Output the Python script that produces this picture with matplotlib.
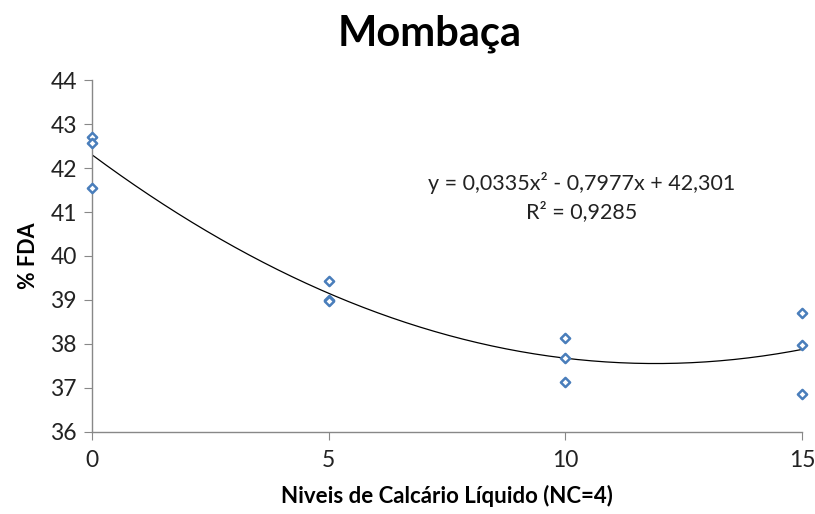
import numpy as np
import matplotlib
matplotlib.use("Agg")
import matplotlib.pyplot as plt

plt.rcParams['font.family'] = ['Lato', 'DejaVu Sans']

# --- data ---
x_levels = [0, 0, 0, 5, 5, 5, 10, 10, 10, 15, 15, 15]
fda = [42.71, 42.57, 41.55, 39.43, 39.00, 38.98, 38.14, 37.68, 37.14, 38.71, 37.98, 36.86]

# polynomial trendline as printed on the chart (a2, a1, a0)
trend_coefs = [0.0335, -0.7977, 42.301]
r_squared = 0.9285

x_ticks = [0, 5, 10, 15]
y_ticks = [36, 37, 38, 39, 40, 41, 42, 43, 44]

fig = plt.figure(figsize=(8.15, 5.14), dpi=100)
ax = fig.add_axes([0.113, 0.160, 0.871, 0.684])

# trendline
xs = np.linspace(0, 15, 200)
ax.plot(xs, np.polyval(trend_coefs, xs), color='black', lw=0.9, zorder=2)

# data points (hollow blue diamonds)
ax.scatter(x_levels, fda, marker='D', s=22, facecolor='white',
           edgecolor='#4a7ebb', linewidths=1.8, zorder=3, clip_on=False)

ax.set_xlim(0, 15)
ax.set_ylim(36, 44)
ax.set_xticks(x_ticks)
ax.set_yticks(y_ticks)

for side in ['top', 'right']:
    ax.spines[side].set_visible(False)
for side in ['left', 'bottom']:
    ax.spines[side].set_color('#888888')
    ax.spines[side].set_linewidth(1.0)
ax.tick_params(axis='both', direction='out', length=6, color='#888888',
               labelsize=16.5, labelcolor='#222222')
ax.tick_params(axis='x', pad=7)
ax.tick_params(axis='y', pad=5)

ax.set_xlabel('Niveis de Calcário Líquido (NC=4)', fontsize=16, fontweight='bold',
              labelpad=10)
ax.set_ylabel('% FDA', fontsize=15.5, fontweight='bold', labelpad=8)

fig.text(0.527, 0.935, 'Mombaça', ha='center', va='center', fontsize=30,
         fontweight='bold')

a2, a1, a0 = trend_coefs
eq = 'y = {}x² - {}x + {}'.format(str(a2).replace('.', ','),
                                   str(-a1).replace('.', ','),
                                   str(a0).replace('.', ','))
ax.text(10.35, 41.65, eq, ha='center', va='center', fontsize=15.5, color='#222222')
ax.text(10.35, 41.0, 'R² = ' + str(r_squared).replace('.', ','), ha='center',
        va='center', fontsize=15.5, color='#222222')

fig.savefig('out.png', dpi=100)
